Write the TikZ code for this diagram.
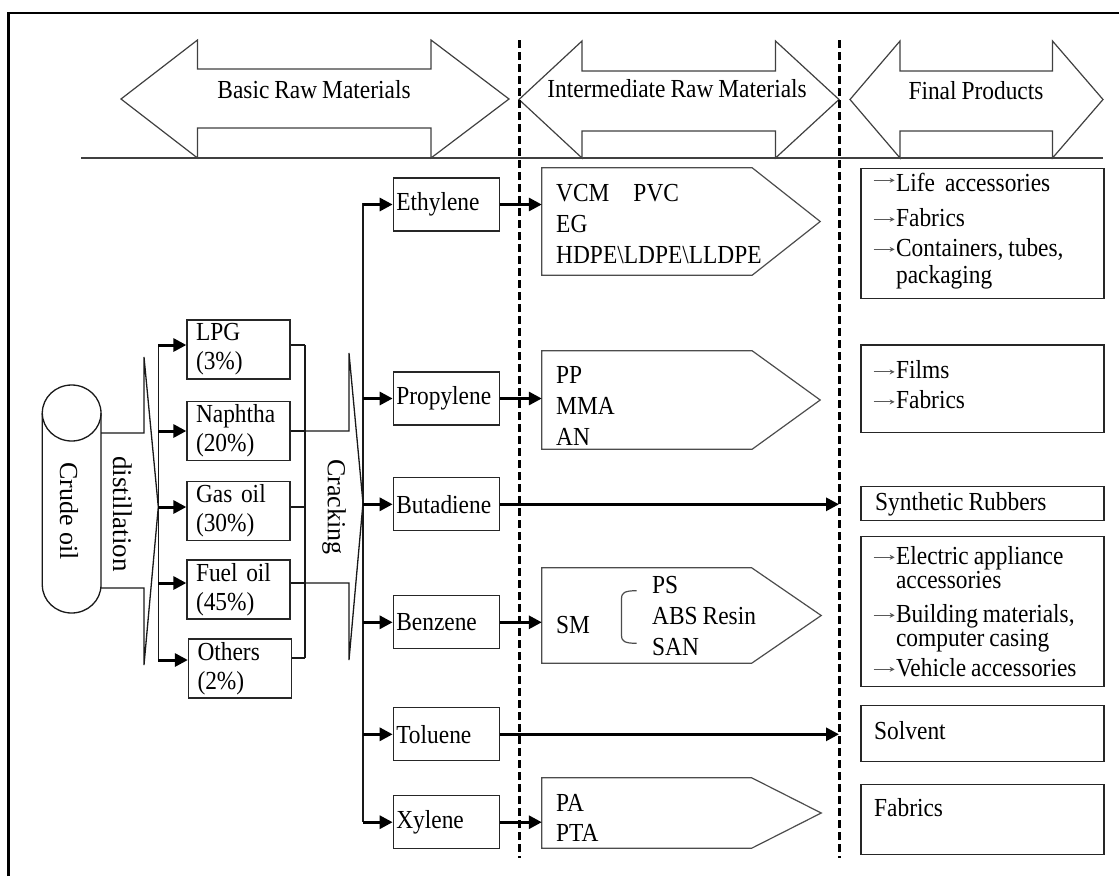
\documentclass[tikz,border=0pt]{standalone}
\usepackage{fontspec}
\setmainfont{Liberation Serif}[FakeStretch=0.9, WordSpace=0.85]
\newfontfamily\uprightserif{Liberation Serif}
\usetikzlibrary{arrows.meta,calc}
\newcommand\rarr{\tikz[baseline=0pt, x=1pt, y=1pt]{\draw[black!65, line width=0.9pt, -{Stealth[length=5pt,width=5pt]}] (0,7) -- (21,7);}\kern1pt}
\begin{document}
\begin{tikzpicture}[x=1pt,y=-1pt,
  txt/.style={font=\fontsize{26}{28}\selectfont, inner sep=0pt},
  rtxt/.style={font=\uprightserif\fontsize{26}{28}\selectfont, inner sep=0pt, rotate=-90},
  gline/.style={draw=black!75, line width=1.2pt},
  conn/.style={draw=black!90, line width=1.3pt},
  flow/.style={draw=black, line width=3pt, -{Triangle[length=13pt,width=13pt]}},
  fracbox/.style={draw=black!85, line width=1.3pt, text width=85pt, inner xsep=9pt, inner ysep=0pt, minimum height=59pt, align=left, font=\fontsize{26}{29}\selectfont},
  chembox/.style={draw=black!85, line width=1.3pt, text width=100pt, inner xsep=3pt, inner ysep=0pt, minimum height=53pt, align=left, font=\fontsize{26}{28}\selectfont},
  prodbox/.style={draw=black!85, line width=1.3pt, minimum width=243pt, inner sep=0pt},
  area/.style={inner sep=0pt},
  pent/.style={draw=black!70, line width=1.2pt},
  divider/.style={draw=black, line width=3pt, dash pattern=on 8pt off 4pt},
]
\useasboundingbox (0,0) rectangle (1119,876);
% outer frame
\draw[line width=2.6pt] (8.5,876) -- (8.5,13) -- (1119,13);

% header arrows
\draw[gline] (81,158) -- (1103,158);
\draw[gline, fill=white] (121,99) -- (197.5,40) -- (197.5,69) -- (431,69) -- (431,40) -- (509,99) -- (431,158) -- (431,128) -- (197.5,128) -- (197.5,158) -- cycle;
\node[txt] (h1) at (314,90) {Basic Raw Materials};
\draw[gline, fill=white] (519,99.5) -- (582,41) -- (582,71) -- (775.5,71) -- (775.5,41) -- (839,99.5) -- (775.5,158) -- (775.5,131) -- (582,131) -- (582,158) -- cycle;
\node[txt] (h2) at (677,89) {Intermediate Raw Materials};
\draw[gline, fill=white] (850,99.5) -- (900,41) -- (900,71) -- (1052.5,71) -- (1052.5,41) -- (1103,99.5) -- (1052.5,158) -- (1052.5,131) -- (900,131) -- (900,158) -- cycle;
\node[txt] (h3) at (976,91) {Final Products};

% dashed dividers
\coordinate (d1t) at (519,40); \coordinate (d1b) at (519,858);
\coordinate (d2t) at (839,40); \coordinate (d2b) at (839,858);

% crude oil cylinder
\node[area, minimum width=58.7pt, minimum height=228pt] (crude) at (71.65,499) {};
\draw[conn] (42.3,413) -- (42.3,585) arc[start angle=180, end angle=360, x radius=29.35pt, y radius=28pt] -- (101,413);
\draw[conn] (71.65,413) ellipse [x radius=29.35pt, y radius=28pt];
\node[rtxt] (crudet) at (69,511) {Crude oil};

% distillation
\draw[conn] (101,433) -- (144,433) -- (144,357) -- (158.3,507) -- (144,665) -- (144,588) -- (101,588);
\node[rtxt, font=\uprightserif\fontsize{27}{28}\selectfont] (dist) at (122.5,514) {distillation};

% fractions
\coordinate (v1t) at (158.3,345); \coordinate (v1b) at (158.3,660);
\draw[conn] (v1t) -- (v1b);
\node[fracbox] (lpg) at (238.5,349.5) {LPG\\(3\%)};
\node[fracbox] (nap) at (238.5,431) {Naphtha\\(20\%)};
\node[fracbox] (gas) at (238.5,511) {Gas oil\\(30\%)};
\node[fracbox] (fuel) at (238.5,589.5) {Fuel oil\\(45\%)};
\node[fracbox] (oth) at (240,668.5) {Others\\(2\%)};
\coordinate (a1) at (158.3,345); \coordinate (a2) at (158.3,431);
\coordinate (a3) at (158.3,507); \coordinate (a4) at (158.3,583);
\coordinate (a5) at (158.3,660);
\draw[flow] (a1) -- (a1 -| lpg.west);
\draw[flow] (a2) -- (a2 -| nap.west);
\draw[flow] (a3) -- (a3 -| gas.west);
\draw[flow] (a4) -- (a4 -| fuel.west);
\draw[flow] (a5) -- (a5 -| oth.west);
\coordinate (c1) at (305,345); \coordinate (c2) at (305,431);
\coordinate (c3) at (305,507); \coordinate (c4) at (305,583);
\coordinate (c5) at (305,658);
\draw[conn] (c1 -| lpg.east) -- (c1);
\draw[conn] (c2 -| nap.east) -- (c2);
\draw[conn] (c3 -| gas.east) -- (c3);
\draw[conn] (c4 -| fuel.east) -- (c4);
\draw[conn] (c5 -| oth.east) -- (c5);
\draw[conn] (c1) -- (c5);

% cracking
\draw[conn] (c2) -- (349,431) -- (349,353) -- (363,503) -- (349,660) -- (349,583) -- (c4);
\node[rtxt] (crack) at (334,507) {Cracking};

% basic chemicals
\coordinate (v2t) at (363,203); \coordinate (v2b) at (363,822);
\draw[conn] (v2t) -- (v2b);
\node[chembox] (eth) at (446.3,204.5) {Ethylene};
\node[chembox] (pro) at (446.3,398.5) {Propylene};
\node[chembox] (but) at (446.3,504.3) {Butadiene};
\node[chembox] (ben) at (446.3,622.3) {Benzene};
\node[chembox] (tol) at (446.3,734.3) {Toluene};
\node[chembox] (xyl) at (446.3,822.2) {Xylene};
\foreach \n in {eth,pro,but,ben,tol,xyl}{\draw[flow] (\n.west -| v2t) -- (\n.west);}

% intermediate pentagons
\node[area, minimum width=278pt, minimum height=107pt] (ip1) at (681,221.5) {};
\draw[pent] (ip1.north west) -- ($(ip1.north east)+(-68,0)$) -- (ip1.east) -- ($(ip1.south east)+(-68,0)$) -- (ip1.south west) -- cycle;
\node[area, minimum width=278pt, minimum height=98pt] (ip2) at (681,400) {};
\draw[pent] (ip2.north west) -- ($(ip2.north east)+(-68,0)$) -- (ip2.east) -- ($(ip2.south east)+(-68,0)$) -- (ip2.south west) -- cycle;
\node[area, minimum width=279pt, minimum height=95pt] (ip3) at (681.5,615.5) {};
\draw[pent] (ip3.north west) -- ($(ip3.north east)+(-69.5,0)$) -- (ip3.east) -- ($(ip3.south east)+(-69.5,0)$) -- (ip3.south west) -- cycle;
\node[area, minimum width=279pt, minimum height=70pt] (ip4) at (681.5,813) {};
\draw[pent] (ip4.north west) -- ($(ip4.north east)+(-69.5,0)$) -- (ip4.east) -- ($(ip4.south east)+(-69.5,0)$) -- (ip4.south west) -- cycle;

\node[txt, anchor=west, align=left, font=\fontsize{26}{30.7}\selectfont] (t1) at (556,224) {VCM\hspace{24pt}PVC\\EG\\HDPE\textbackslash LDPE\textbackslash LLDPE};
\node[txt, anchor=west, align=left, font=\fontsize{26}{31}\selectfont] (t2) at (556,406) {PP\\MMA\\AN};
\node[txt, anchor=west] (t3a) at (556,625) {SM};
\node[txt, anchor=west, align=left, font=\fontsize{26}{31}\selectfont] (t3b) at (652,616) {PS\\ABS Resin\\SAN};
\draw[pent] (636.7,590.7) .. controls (624,590.7) and (621.4,593) .. (621.4,599) -- (621.4,635) .. controls (621.4,641) and (624,643.3) .. (636.7,643.3);
\node[txt, anchor=west, align=left, font=\fontsize{26}{30}\selectfont] (t4) at (556,818) {PA\\PTA};

\draw[flow] (eth.east) -- (eth.east -| ip1.west);
\draw[flow] (pro.east) -- (pro.east -| ip2.west);
\draw[flow] (ben.east) -- (ben.east -| ip3.west);
\draw[flow] (xyl.east) -- (xyl.east -| ip4.west);
\draw[flow] (but.east) -- (but.east -| d2t);
\draw[flow] (tol.east) -- (tol.east -| d2t);

% final products
\node[prodbox, minimum height=130pt] (p1) at (982.5,233.3) {};
\node[prodbox, minimum height=87.7pt] (p2) at (982.5,388.9) {};
\node[prodbox, minimum height=34pt] (p3) at (982.5,503.7) {};
\node[prodbox, minimum height=150pt] (p4) at (982.5,611.7) {};
\node[prodbox, minimum height=56pt] (p5) at (982.5,733.7) {};
\node[prodbox, minimum height=70pt] (p6) at (982.5,819.3) {};
\node[txt, anchor=west, align=left, font=\fontsize{26}{27}\selectfont] (q1) at (873,231) {\raisebox{4pt}{\rarr}Life\ \ accessories\\[8pt]\rarr Fabrics\\[3pt]\rarr Containers, tubes,\\\hphantom{\rarr}packaging};
\node[txt, anchor=west, align=left, font=\fontsize{26}{30}\selectfont] (q2) at (873,385) {\rarr Films\\\rarr Fabrics};
\node[txt, anchor=west] (q3) at (875,504) {Synthetic Rubbers};
\node[txt, anchor=west, align=left, font=\fontsize{26}{24}\selectfont] (q4) at (873,611.5) {\rarr Electric appliance\\\hphantom{\rarr}accessories\\[10pt]\rarr Building materials,\\\hphantom{\rarr}computer casing\\[6pt]\rarr Vehicle accessories};
\node[txt, anchor=west] (q5) at (874,731) {Solvent};
\node[txt, anchor=west] (q6) at (874,808) {Fabrics};

\draw[divider] (d1t) -- (d1b);
\draw[divider] (d2t) -- (d2b);
\end{tikzpicture}
\end{document}
